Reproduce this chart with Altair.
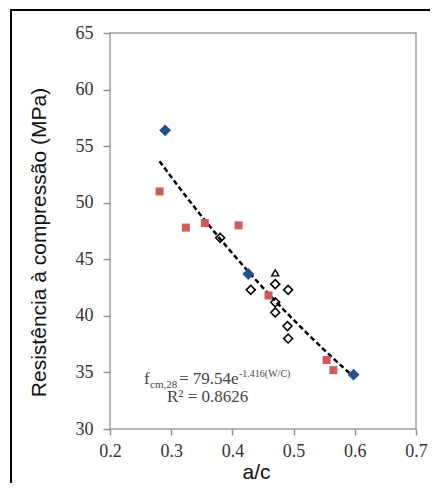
import altair as alt
import pandas as pd

# Series
blue_x = [0.290, 0.426, 0.598]
blue_y = [56.4, 43.7, 34.8]
red_x = [0.281, 0.324, 0.355, 0.410, 0.459, 0.554, 0.565]
red_y = [51.0, 47.8, 48.2, 48.0, 41.8, 36.1, 35.2]
open_x = [0.380, 0.430, 0.470, 0.491, 0.470, 0.470, 0.490, 0.491]
open_y = [46.9, 42.3, 42.8, 42.3, 41.2, 40.3, 39.1, 38.0]
tri_x = [0.470]
tri_y = [43.8]

x_ticks = [0.2, 0.3, 0.4, 0.5, 0.6, 0.7]
y_ticks = [30, 35, 40, 45, 50, 55, 60, 65]

x_title = "a/c"
y_title = "Resistência à compressão (MPa)"

serif = "Liberation Serif"
sans = "Liberation Sans"
tcol = "#444444"

def frame(xs, ys, g):
    return pd.DataFrame({"x": xs, "y": ys, "g": g})

blue = frame(blue_x, blue_y, "blue")
red = frame(red_x, red_y, "red")
opn = frame(open_x, open_y, "open")
tri = frame(tri_x, tri_y, "tri")
alld = pd.concat([blue, red, opn, tri], ignore_index=True)
one = pd.DataFrame({"k": [0]})

xs = alt.Scale(domain=[0.2, 0.7], nice=False, zero=False)
ys = alt.Scale(domain=[30, 65], nice=False, zero=False)

X = alt.X("x:Q", scale=xs,
          axis=alt.Axis(values=x_ticks, format=".1f", title=x_title,
                        labelFont=serif, labelFontSize=18, labelColor="#333333",
                        labelPadding=7, labelFlush=False,
                        titleFont=sans, titleFontSize=21, titleFontWeight="normal",
                        titleX=146, titleY=49, titleBaseline="alphabetic",
                        titleAlign="center"))
Y = alt.Y("y:Q", scale=ys,
          axis=alt.Axis(values=y_ticks, format="d", title=y_title,
                        labelFont=serif, labelFontSize=18, labelColor="#333333",
                        labelPadding=10, labelFlush=False, tickSize=7,
                        titleFont=sans, titleFontSize=21, titleFontWeight="normal",
                        titleX=-65, titleY=209, titleBaseline="alphabetic",
                        titleAlign="center", titleAngle=-90))

fit = alt.Chart(alld).transform_regression("x", "y", method="exp").mark_line(
    color="black", strokeDash=[5, 3], strokeWidth=2.5
).encode(x=X, y=Y)

open_pts = alt.Chart(opn).mark_point(
    shape="diamond", filled=False, color="black", strokeWidth=1.6, size=80, opacity=1
).encode(x=X, y=Y)
tri_pts = alt.Chart(tri).mark_point(
    shape="triangle-up", filled=False, color="black", strokeWidth=1.4, size=50, opacity=1
).encode(x=X, y=Y)
red_pts = alt.Chart(red).mark_point(
    shape="square", filled=True, color="#D05A57", size=64, opacity=1
).encode(x=X, y=Y)
blue_pts = alt.Chart(blue).mark_point(
    shape="diamond", filled=True, color="#24508F", size=140, opacity=1
).encode(x=X, y=Y)

def label(text, size, px, py):
    return alt.Chart(one).mark_text(
        text=text, font=serif, fontSize=size, align="left",
        baseline="alphabetic", color=tcol
    ).encode(x=alt.value(px), y=alt.value(py))

ann1 = label("f", 17, 34, 351)
ann2 = label("cm,28", 11, 40, 355)
ann3 = label("= 79.54e", 17, 69, 351)
ann4 = label("-1.416(W/C)", 10, 129, 344)
ann5 = label("R² = 0.8626", 17, 57, 369)

# outer frame of the figure; its right and bottom sides fall outside the canvas
outer = alt.Chart(one).mark_rect(
    fill="transparent", stroke="black", strokeWidth=2
).encode(
    x=alt.value(-99), x2=alt.value(420), y=alt.value(-23), y2=alt.value(520)
)

chart = alt.layer(
    fit, open_pts, tri_pts, red_pts, blue_pts,
    ann1, ann2, ann3, ann4, ann5, outer
).properties(
    width=306, height=396,
    padding={"left": 102, "top": 25, "right": 14, "bottom": 54},
    autosize=alt.AutoSizeParams(type="none"),
    background="white",
).configure_view(
    stroke="#A0A0A0", strokeWidth=1.5
).configure_axis(
    grid=False,
    domain=False,
    tickColor="#909090",
    tickWidth=1.5,
    tickSize=6,
    labelFont=serif,
    labelFontSize=18,
    labelColor="#333333",
    titleFont=sans,
    titleFontSize=21,
    titleFontWeight="normal",
    titleColor="#111111",
)

chart.save("out.html", embed_options={"renderer": "svg", "actions": False})
